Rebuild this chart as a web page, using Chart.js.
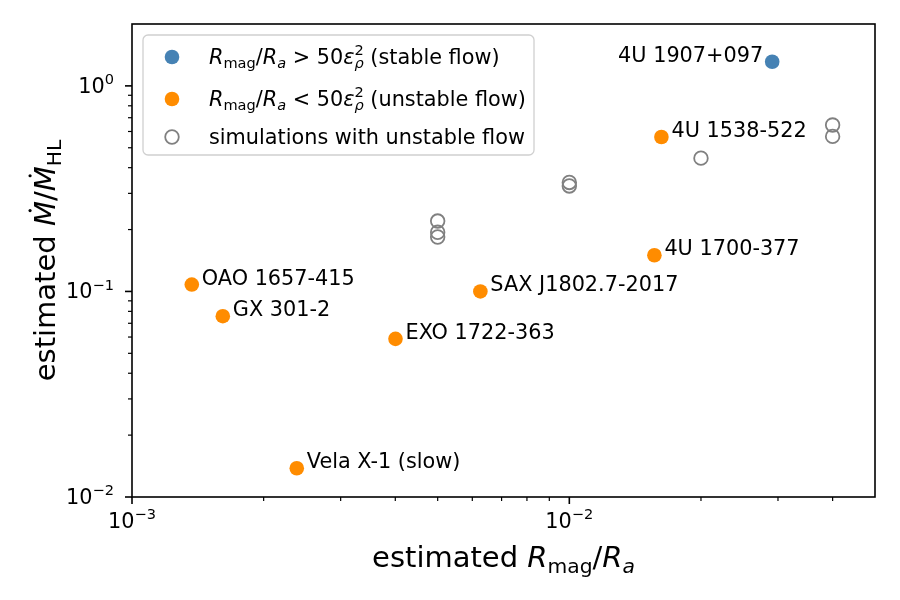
<!DOCTYPE html>
<html lang="en">
<head>
<meta charset="UTF-8">
<title>Estimated Mdot vs Rmag/Ra</title>
<script src="https://cdn.jsdelivr.net/npm/chart.js@4"></script>
<style>
  body { margin: 0; background: #fff; }
  #wrap { width: 900px; height: 600px; }
</style>
</head>
<body>
<div id="wrap"><canvas id="chart" width="900" height="600"></canvas></div>
<script>
// stable flow source (blue)
const stableNames = ['4U 1907+097'];
const stableX = [0.0291];
const stableY = [1.31];

// unstable flow sources (orange)
const unstableNames = ['4U 1538-522', '4U 1700-377', 'SAX J1802.7-2017', 'OAO 1657-415',
                       'GX 301-2', 'EXO 1722-363', 'Vela X-1 (slow)'];
const unstableX = [0.01624, 0.01565, 0.00626, 0.00137, 0.001613, 0.004004, 0.002381];
const unstableY = [0.564, 0.150, 0.100, 0.108, 0.0758, 0.0588, 0.0138];

// simulations with unstable flow (open circles)
const simX = [0.005, 0.005, 0.005, 0.01, 0.01, 0.02, 0.04, 0.04];
const simY = [0.22, 0.194, 0.184, 0.339, 0.326, 0.445, 0.645, 0.568];

// axis ranges and major ticks (labels are 10^exponent)
const xRange = [0.001, 0.05];
const yRange = [0.01, 2];
const xMajor = [1e-3, 1e-2];
const xExp = ['\u22123', '\u22122'];
const yMajor = [1e-2, 1e-1, 1];
const yExp = ['\u22122', '\u22121', '0'];

const FONT = '"DejaVu Sans", sans-serif';
const TXT = 20.8;   // 10pt at 150 dpi
const TITLE = 29;   // 14pt

// tiny mathtext: parts = {t, i (italic), sub, sup, stack (sup over previous sub), dot}
function layoutMath(ctx, parts, size) {
    let x = 0, lastStart = 0;
    const out = [];
    parts.forEach(p => {
        const small = p.sub || p.sup;
        const fs = small ? size * 0.7 : size;
        const font = (p.i ? 'italic ' : '') + fs + 'px ' + FONT;
        ctx.font = font;
        const w = ctx.measureText(p.t).width;
        const dy = p.sub ? size * 0.2 : (p.sup ? -size * 0.42 : 0);
        const sx = p.stack ? lastStart : x;
        out.push({ t: p.t, font, x: sx, dy, w, dot: p.dot, fs });
        if (p.stack) {
            x = Math.max(x, sx + w);
        } else {
            lastStart = x;
            x += w;
        }
    });
    return { runs: out, width: x };
}

function drawMath(ctx, parts, x, y, size, align) {
    const lay = layoutMath(ctx, parts, size);
    let x0 = x;
    if (align === 'center') x0 = x - lay.width / 2;
    if (align === 'right') x0 = x - lay.width;
    ctx.textAlign = 'left';
    ctx.textBaseline = 'alphabetic';
    lay.runs.forEach(r => {
        ctx.font = r.font;
        ctx.fillText(r.t, x0 + r.x, y + r.dy);
        if (r.dot) {
            ctx.beginPath();
            ctx.arc(x0 + r.x + r.w * 0.62, y + r.dy - r.fs * 0.86, r.fs * 0.055, 0, Math.PI * 2);
            ctx.fill();
        }
    });
}

function minorTicks(min, max) {
    const res = [];
    for (let n = Math.floor(Math.log10(min)); n <= Math.ceil(Math.log10(max)); n++) {
        for (let k = 2; k <= 9; k++) {
            const v = k * Math.pow(10, n);
            if (v > min * 1.0001 && v < max * 0.9999) res.push(v);
        }
    }
    return res;
}

const decorPlugin = {
    id: 'decor',
    beforeDraw(chart) {
        const ctx = chart.ctx;
        ctx.save();
        ctx.fillStyle = '#fff';
        ctx.fillRect(0, 0, chart.width, chart.height);
        ctx.restore();
    },
    afterDatasetsDraw(chart) {
        const ctx = chart.ctx;
        const a = chart.chartArea;
        const xs = chart.scales.x, ys = chart.scales.y;
        ctx.save();
        ctx.fillStyle = '#000';
        ctx.strokeStyle = '#000';

        // frame
        ctx.lineWidth = 1.6;
        ctx.strokeRect(a.left, a.top, a.right - a.left, a.bottom - a.top);

        // x ticks
        xMajor.forEach((v, i) => {
            const px = xs.getPixelForValue(v);
            ctx.lineWidth = 1.6;
            ctx.beginPath(); ctx.moveTo(px, a.bottom); ctx.lineTo(px, a.bottom + 7); ctx.stroke();
            drawMath(ctx, [{ t: '10' }, { t: xExp[i], sup: true }], px, a.bottom + 31, TXT, 'center');
        });
        minorTicks(xRange[0], xRange[1]).forEach(v => {
            const px = xs.getPixelForValue(v);
            ctx.lineWidth = 1.2;
            ctx.beginPath(); ctx.moveTo(px, a.bottom); ctx.lineTo(px, a.bottom + 4); ctx.stroke();
        });

        // y ticks
        yMajor.forEach((v, i) => {
            const py = ys.getPixelForValue(v);
            ctx.lineWidth = 1.6;
            ctx.beginPath(); ctx.moveTo(a.left, py); ctx.lineTo(a.left - 7, py); ctx.stroke();
            drawMath(ctx, [{ t: '10' }, { t: yExp[i], sup: true }], a.left - 18, py + 7, TXT, 'right');
        });
        minorTicks(yRange[0], yRange[1]).forEach(v => {
            const py = ys.getPixelForValue(v);
            ctx.lineWidth = 1.2;
            ctx.beginPath(); ctx.moveTo(a.left, py); ctx.lineTo(a.left - 4, py); ctx.stroke();
        });

        // axis titles
        drawMath(ctx, [{ t: 'estimated ' }, { t: 'R', i: true }, { t: 'mag', sub: true },
                       { t: '/' }, { t: 'R', i: true }, { t: 'a', i: true, sub: true }],
                 (a.left + a.right) / 2, 567, TITLE, 'center');
        ctx.save();
        ctx.translate(55, (a.top + a.bottom) / 2);
        ctx.rotate(-Math.PI / 2);
        drawMath(ctx, [{ t: 'estimated ' }, { t: 'M', i: true, dot: true }, { t: '/' },
                       { t: 'M', i: true, dot: true }, { t: 'HL', sub: true }],
                 0, 0, TITLE, 'center');
        ctx.restore();

        // point labels
        ctx.font = TXT + 'px ' + FONT;
        ctx.textBaseline = 'alphabetic';
        ctx.textAlign = 'left';
        unstableNames.forEach((name, i) => {
            const px = xs.getPixelForValue(unstableX[i]);
            const py = ys.getPixelForValue(unstableY[i]);
            ctx.fillText(name, px + 10, py);
        });
        ctx.textAlign = 'right';
        stableNames.forEach((name, i) => {
            const px = xs.getPixelForValue(stableX[i]);
            const py = ys.getPixelForValue(stableY[i]);
            ctx.fillText(name, px - 9, py);
        });

        // legend
        const lx = 143, ly = 35, lw = 391, lh = 120;
        ctx.beginPath();
        ctx.roundRect(lx, ly, lw, lh, 5);
        ctx.fillStyle = 'rgba(255,255,255,0.8)';
        ctx.fill();
        ctx.strokeStyle = '#d0d0d0';
        ctx.lineWidth = 1.3;
        ctx.stroke();

        const rows = [57, 99, 137];
        // markers
        ctx.beginPath(); ctx.arc(172, rows[0], 7.3, 0, Math.PI * 2);
        ctx.fillStyle = '#4682b4'; ctx.fill();
        ctx.beginPath(); ctx.arc(172, rows[1], 7.3, 0, Math.PI * 2);
        ctx.fillStyle = '#ff8c00'; ctx.fill();
        ctx.beginPath(); ctx.arc(172, rows[2], 6.8, 0, Math.PI * 2);
        ctx.strokeStyle = '#808080'; ctx.lineWidth = 1.8; ctx.stroke();

        ctx.fillStyle = '#000';
        const cond = [{ t: 'R', i: true }, { t: 'mag', sub: true }, { t: '/' },
                      { t: 'R', i: true }, { t: 'a', i: true, sub: true }];
        const eps = [{ t: '50' }, { t: '\u03b5', i: true }, { t: '\u03c1', i: true, sub: true },
                     { t: '2', sup: true, stack: true }];
        drawMath(ctx, cond.concat([{ t: ' > ' }], eps, [{ t: ' (stable flow)' }]), 209, rows[0] + 7, TXT, 'left');
        drawMath(ctx, cond.concat([{ t: ' < ' }], eps, [{ t: ' (unstable flow)' }]), 209, rows[1] + 7, TXT, 'left');
        drawMath(ctx, [{ t: 'simulations with unstable flow' }], 209, rows[2] + 7, TXT, 'left');

        ctx.restore();
    }
};

function toPoints(xv, yv) {
    return xv.map((x, i) => ({ x: x, y: yv[i] }));
}

new Chart(document.getElementById('chart').getContext('2d'), {
    type: 'scatter',
    data: {
        datasets: [
            {
                label: 'stable flow',
                data: toPoints(stableX, stableY),
                backgroundColor: '#4682b4',
                borderWidth: 0,
                pointRadius: 7.3
            },
            {
                label: 'unstable flow',
                data: toPoints(unstableX, unstableY),
                backgroundColor: '#ff8c00',
                borderWidth: 0,
                pointRadius: 7.3
            },
            {
                label: 'simulations with unstable flow',
                data: toPoints(simX, simY),
                backgroundColor: 'rgba(0,0,0,0)',
                borderColor: '#808080',
                borderWidth: 1.8,
                pointRadius: 6.8
            }
        ]
    },
    options: {
        responsive: false,
        animation: false,
        layout: { padding: { left: 132, right: 25, top: 24, bottom: 103 } },
        plugins: {
            legend: { display: false },
            tooltip: { enabled: false }
        },
        scales: {
            x: { type: 'logarithmic', min: xRange[0], max: xRange[1], display: false },
            y: { type: 'logarithmic', min: yRange[0], max: yRange[1], display: false }
        }
    },
    plugins: [decorPlugin]
});
</script>
</body>
</html>
